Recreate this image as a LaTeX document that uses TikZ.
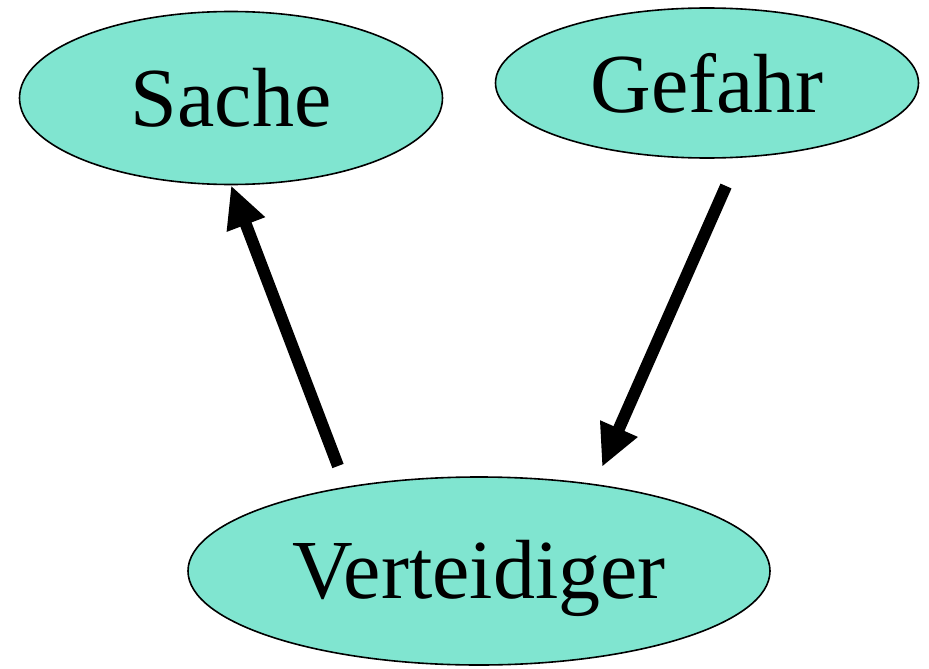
\documentclass[tikz,border=0pt]{standalone}
\usepackage{fontspec}
\setmainfont{Liberation Serif}
\usetikzlibrary{shapes.geometric,arrows.meta}
\definecolor{turq}{RGB}{128,229,208}
\begin{document}
\begin{tikzpicture}[x=1pt,y=-1pt,
  blob/.style={ellipse,draw=black,line width=1.6pt,fill=turq,inner sep=0pt,font=\fontsize{84}{94}\selectfont},
  arr/.style={line width=12pt,-{Triangle[length=42pt,width=38pt]}}]
\useasboundingbox (0,0) rectangle (929,669);
\node[blob,minimum width=423pt,minimum height=173pt] (S) at (231,98) {Sache};
\node[blob,minimum width=423pt,minimum height=150pt] (G) at (707,83) {Gefahr};
\node[blob,minimum width=582pt,minimum height=188pt] (V) at (479,571) {\raisebox{-7pt}[\height][\depth]{Verteidiger}};
\coordinate (s1) at (338,466);
\coordinate (g1) at (726,186);
\coordinate (g2) at (602,467);
\draw[arr] (s1) -- (S.south);
\draw[arr] (g1) -- (g2);
\end{tikzpicture}
\end{document}
